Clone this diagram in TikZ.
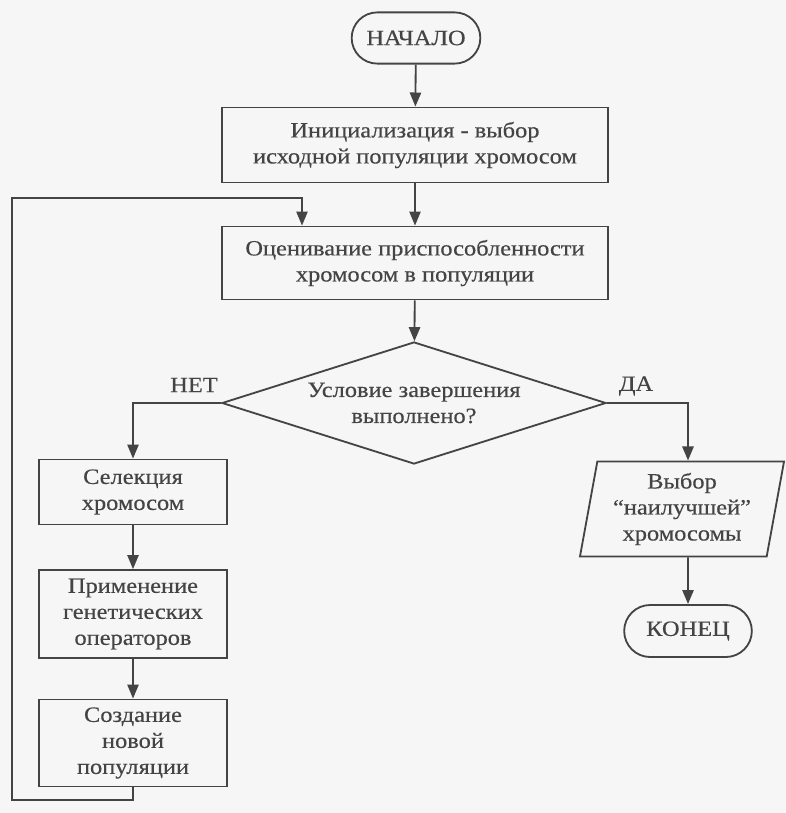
\documentclass[tikz,border=0pt]{standalone}
\usepackage{fontspec}
\setmainfont{Liberation Serif}[FakeStretch=1.12, FakeBold=0.4]
\usepackage{tikz}
\usetikzlibrary{shapes.geometric, shapes.misc, arrows.meta}

\definecolor{ink}{HTML}{444444}
\definecolor{paper}{HTML}{F6F6F6}

\begin{document}
\begin{tikzpicture}[x=0.025cm, y=-0.025cm,
    every node/.style={draw=ink, text=ink, line width=1.3pt, align=center,
        font=\fontsize{15.5}{18.5}\selectfont},
    block/.style={rectangle, minimum width=4.7cm},
    term/.style={rounded rectangle, minimum width=3.45cm, minimum height=1.28cm},
    cond/.style={diamond, aspect=3.1, minimum width=9.6cm, minimum height=3.05cm, inner sep=0pt},
    io/.style={trapezium, trapezium left angle=78, trapezium right angle=102,
        trapezium stretches body, minimum width=5.1cm, minimum height=2.375cm},
    lbl/.style={draw=none},
    arr/.style={-{Triangle[length=10pt, width=8pt]}, draw=ink, line width=1.3pt}]
            \fill[paper] (0,0) rectangle (786,813);
            \useasboundingbox (0,0) rectangle (786,813);

            \node[term] (start) at (416,38) {НАЧАЛО};
            \node[block, minimum width=9.65cm, minimum height=1.875cm] (init) at (415,145) {Инициализация - выбор\\исходной популяции хромосом};
            \node[block, minimum width=9.65cm, minimum height=1.825cm] (eval) at (415,263) {Оценивание приспособленности\\хромосом в популяции};
            \node[cond] (cond) at (414,403) {Условие завершения\\выполнено?};
            \node[lbl] (no) at (194,385) {НЕТ};
            \node[lbl] (yes) at (636,386) {ДА};

            \node[block, minimum height=1.625cm] (sel) at (133,492) {Селекция\\хромосом};
            \node[block, minimum height=2.2cm] (ops) at (133,614) {Применение\\генетических\\операторов};
            \node[block, minimum height=2.175cm] (newpop) at (133,743) {Создание\\новой\\популяции};

            \node[io] (best) at (682,509) {Выбор\\“наилучшей”\\хромосомы};
            \node[term, minimum width=3.425cm, minimum height=1.3cm] (stop) at (688,631) {КОНЕЦ};

            \coordinate (loopl) at (12,800);
            \coordinate (loopt) at (302,198);

            \draw[arr] (start) -- (init);
            \draw[arr] (init) -- (eval);
            \draw[arr] (eval) -- (cond);
            \draw[arr] (cond.west) -| (sel.north);
            \draw[arr] (cond.east) -| (stop |- best.north);
            \draw[arr] (sel) -- (ops);
            \draw[arr] (ops) -- (newpop);
            \draw[arr] (stop |- best.south) -- (stop);
            \draw[arr] (newpop.south) |- (loopl) |- (loopt) -- (loopt |- eval.north);
        \end{tikzpicture}
\end{document}
